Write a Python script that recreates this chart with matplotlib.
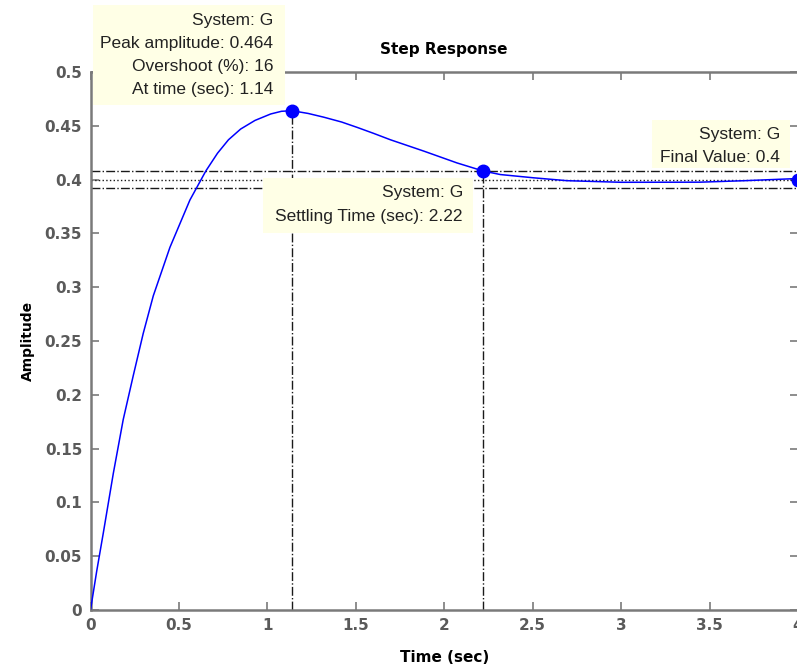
import matplotlib
matplotlib.use("Agg")
import matplotlib.pyplot as plt
from matplotlib.patches import Rectangle

# ---- data ----
time_s = [0.0, 0.035, 0.072, 0.129, 0.185, 0.242, 0.298, 0.355, 0.449, 0.562,
          0.652, 0.718, 0.78, 0.849, 0.93, 1.019, 1.08, 1.14,
          1.23, 1.319, 1.42, 1.508, 1.6, 1.696, 1.884, 2.072, 2.22, 2.317,
          2.503, 2.693, 3.0, 3.445, 3.7, 3.97, 4.0]
amplitude = [0.0, 0.036, 0.0712, 0.127, 0.177, 0.218, 0.257, 0.292, 0.337, 0.381,
             0.408, 0.4245, 0.437, 0.447, 0.455, 0.461, 0.4635, 0.464,
             0.4615, 0.458, 0.4535, 0.4485, 0.443, 0.437, 0.4265, 0.4155, 0.408, 0.4047,
             0.4017, 0.399, 0.3975, 0.3976, 0.399, 0.4008, 0.4]

peak_time = 1.14
peak_amp = 0.464
overshoot = 16
settle_time = 2.22
settle_upper = 0.408
settle_lower = 0.392
final_value = 0.4
t_end = 4.0

xticks = [0, 0.5, 1, 1.5, 2, 2.5, 3, 3.5, 4]
xtick_labels = ["0", "0.5", "1", "1.5", "2", "2.5", "3", "3.5", "4"]
yticks = [0, 0.05, 0.1, 0.15, 0.2, 0.25, 0.3, 0.35, 0.4, 0.45, 0.5]
ytick_labels = ["0", "0.05", "0.1", "0.15", "0.2", "0.25", "0.3", "0.35", "0.4", "0.45", "0.5"]

box1_lines = ["System: G", "Peak amplitude: 0.464", "Overshoot (%): 16", "At time (sec): 1.14"]
box2_lines = ["System: G", "Settling Time (sec): 2.22"]
box3_lines = ["System: G", "Final Value: 0.4"]

# ---- figure ----
W, H = 797, 669
fig = plt.figure(figsize=(W / 100, H / 100), dpi=100)
fig.patch.set_facecolor("white")

def fx(x):
    return x / W

def fy(y):
    return 1 - y / H

ax = fig.add_axes([fx(90.5), fy(610), (798 - 90.5) / W, (610 - 72) / H])
ax.set_xlim(0, 4)
ax.set_ylim(0, 0.5)

gray = "#7a7a7a"
for s in ax.spines.values():
    s.set_color(gray)
    s.set_linewidth(1.8)

ax.set_xticks(xticks)
ax.set_xticklabels(xtick_labels)
ax.set_yticks(yticks)
ax.set_yticklabels(ytick_labels)
ax.tick_params(direction="in", length=6, width=1.2, color=gray,
               top=True, right=True, labelcolor="#5a5a5a", labelsize=11, pad=6)
for lab in ax.get_xticklabels() + ax.get_yticklabels():
    lab.set_fontweight("bold")

ax.set_title("Step Response", fontsize=11, fontweight="bold", pad=13)
ax.set_xlabel("Time (sec)", fontsize=11, fontweight="bold", labelpad=12)
ax.set_ylabel("Amplitude", fontsize=10, fontweight="bold", labelpad=7)

# characteristic lines
lc = "#1a1a1a"
ax.plot([0, t_end], [settle_upper, settle_upper], ls="-.", color=lc, lw=1.0, zorder=2)
ax.plot([0, t_end], [settle_lower, settle_lower], ls="-.", color=lc, lw=1.0, zorder=2)
ax.plot([0, t_end], [final_value, final_value], ls=":", color=lc, lw=1.0, zorder=2)
ax.plot([peak_time, peak_time], [0, peak_amp], ls="-.", color=lc, lw=1.0, zorder=2)
ax.plot([settle_time, settle_time], [0, settle_upper], ls="-.", color=lc, lw=1.0, zorder=2)

# response curve
ax.plot(time_s, amplitude, color="#0000ff", lw=1.1, zorder=3)

# data tip markers
ax.plot([peak_time], [peak_amp], "o", color="#0000ff", ms=9, zorder=4, clip_on=False)
ax.plot([settle_time], [settle_upper], "o", color="#0000ff", ms=9, zorder=4, clip_on=False)
ax.plot([t_end], [final_value], "o", color="#0000ff", ms=9, zorder=4, clip_on=False)

# data tip boxes (pixel positions from top-left)
def datatip(x0, y0, x1, y1, text_right, line_ys, lines):
    r = Rectangle((fx(x0), fy(y1)), (x1 - x0) / W, (y1 - y0) / H,
                  transform=fig.transFigure, facecolor="#ffffe6", edgecolor="none",
                  zorder=5)
    fig.add_artist(r)
    for yy, t in zip(line_ys, lines):
        fig.text(fx(text_right), fy(yy), t, ha="right", va="center",
                 fontsize=12.5, family=["Liberation Sans", "DejaVu Sans"],
                 color="#222222", zorder=6)

datatip(93, 5, 285, 105, 273, [20.5, 43.5, 66.5, 89.5], box1_lines)
datatip(263, 178, 473, 233, 463, [193, 217], box2_lines)
datatip(652, 120, 790, 168, 780, [135, 158], box3_lines)

fig.savefig("out.png", dpi=100)
